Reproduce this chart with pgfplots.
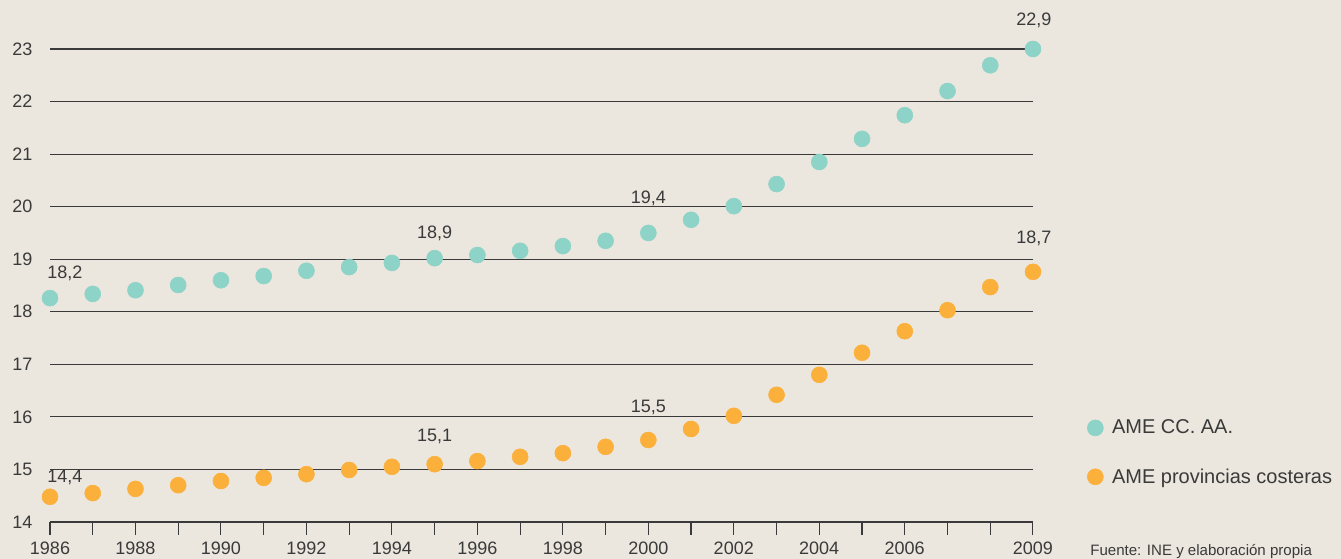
\documentclass[border=0pt]{standalone}
\usepackage{fontspec}
\setmainfont{Liberation Sans}
\usepackage{pgfplots}
\pgfplotsset{compat=1.18}
\definecolor{fondo}{HTML}{EBE7DE}
\definecolor{turquesa}{HTML}{8DD3C7}
\definecolor{naranja}{HTML}{FBB03B}
\definecolor{texto}{HTML}{3A3A3A}

% AME CC. AA.
\pgfplotstableread{
anio valor
1986 18.26
1987 18.34
1988 18.41
1989 18.51
1990 18.60
1991 18.68
1992 18.78
1993 18.85
1994 18.93
1995 19.02
1996 19.08
1997 19.16
1998 19.25
1999 19.35
2000 19.50
2001 19.75
2002 20.01
2003 20.43
2004 20.85
2005 21.29
2006 21.74
2007 22.20
2008 22.69
2009 23.00
}\ccaa

% AME provincias costeras
\pgfplotstableread{
anio valor
1986 14.48
1987 14.55
1988 14.63
1989 14.70
1990 14.78
1991 14.84
1992 14.91
1993 14.99
1994 15.05
1995 15.10
1996 15.16
1997 15.24
1998 15.31
1999 15.43
2000 15.56
2001 15.77
2002 16.02
2003 16.42
2004 16.80
2005 17.22
2006 17.63
2007 18.03
2008 18.47
2009 18.76
}\costeras

\begin{document}
\begin{tikzpicture}[x=0.75pt,y=0.75pt]
  % fondo del grafico (1 px = 0.75 pt)
  \fill[fondo] (-50,-37) rectangle (1291,522);
  \begin{axis}[
      at={(0,0)}, anchor=south west,
      scale only axis,
      width=737.25pt, height=354.75pt,
      xmin=1986, xmax=2009,
      ymin=14, ymax=23,
      clip=false,
      axis on top,
      axis x line*=bottom,
      axis y line*=left,
      y axis line style={draw=none},
      x axis line style={texto, line width=0.8pt, -},
      ytick={14,...,23},
      ytick style={draw=none},
      ymajorgrids,
      grid style={texto, line width=0.8pt},
      xtick={1986,...,2009},
      xticklabels={1986,,1988,,1990,,1992,,1994,,1996,,1998,,2000,,2002,,2004,,2006,,,2009},
      tick align=outside,
      major tick length=9.75pt,
      xtick style={texto, line width=0.8pt},
      /pgf/number format/assume math mode=true,
      /pgf/number format/1000 sep={},
      tick label style={font=\fontsize{13.5}{15}\selectfont, text=texto},
      x tick label style={yshift=-2pt},
      legend style={at={(axis description cs:1.055,0.222)}, anchor=north west,
        draw=none, fill=none, inner sep=0pt, row sep=20.5pt,
        font=\fontsize{15}{17}\selectfont, text=texto},
      legend cell align=left,
      legend image code/.code={%
        \path[draw=none, fill=none] (0pt,0pt) -- (16.5pt,0pt);
        \draw[#1] plot coordinates {(6pt,0pt)};},
    ]
    \addplot[only marks, mark=*, mark size=6pt, color=turquesa] table[x=anio, y=valor] {\ccaa};
    \addlegendentry{AME CC. AA.}
    \addplot[only marks, mark=*, mark size=6pt, color=naranja] table[x=anio, y=valor] {\costeras};
    \addlegendentry{AME provincias costeras}

    \begin{scope}[every node/.style={font=\fontsize{13.5}{15}\selectfont, text=texto}]
      \node at (axis cs:1986.35,18.74) {18,2};
      \node at (axis cs:1995,19.50) {18,9};
      \node at (axis cs:2000,20.16) {19,4};
      \node at (axis cs:2009.02,23.55) {22,9};
      \node at (axis cs:2009.02,19.40) {18,7};
      \node at (axis cs:1986.35,14.84) {14,4};
      \node at (axis cs:1995,15.62) {15,1};
      \node at (axis cs:2000,16.17) {15,5};
    \end{scope}
    \node[anchor=west, inner sep=0pt, font=\fontsize{11.3}{13}\selectfont, text=texto]
      at (axis description cs:1.058,-0.062) {Fuente: INE y elaboración propia};
  \end{axis}
  \pgfresetboundingbox
  \useasboundingbox (-50,-37) rectangle (1291,522);
\end{tikzpicture}
\end{document}
